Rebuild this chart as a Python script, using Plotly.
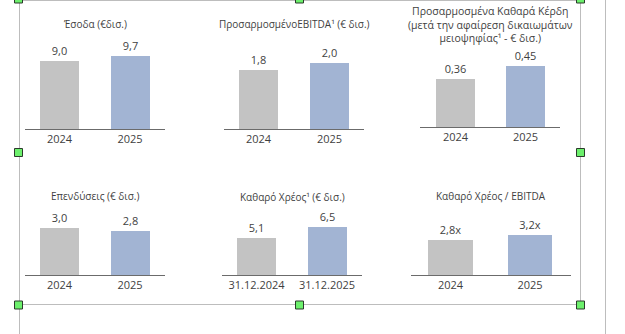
import plotly.graph_objects as go

# ---- data -------------------------------------------------------------
years = ["2024", "2025"]
debt_dates = ["31.12.2024", "31.12.2025"]

revenue = [9.0, 9.7]
adj_ebitda = [1.8, 2.0]
adj_net_profit = [0.36, 0.45]
capex = [3.0, 2.8]
net_debt = [5.1, 6.5]
leverage = [2.8, 3.2]

titles = [
    "Έσοδα (€δισ.)",
    "ΠροσαρμοσμένοEBITDA¹ (€ δισ.)",
    "Προσαρμοσμένα Καθαρά Κέρδη<br>(μετά την αφαίρεση δικαιωμάτων<br>μειοψηφίας¹ - € δισ.)",
    "Επενδύσεις (€ δισ.)",
    "Καθαρό Χρέος¹ (€ δισ.)",
    "Καθαρό Χρέος / EBITDA",
]

# ---- page / styling ---------------------------------------------------
W, H = 625, 334
GREY = "#c3c3c3"
BLUE = "#a2b4d3"
TXT = "#3f3f3f"
FONT = "Open Sans, Noto Sans, sans-serif"

# panel layout in pixels: axis left/right, bar centres, bar width, baseline, px per unit
panels = [
    dict(cats=years, vals=revenue, fmt="%{y:.1f}", xl=25, xr=165, c0=59.5, c1=130, bw=39, yb=129, s=7.55, ty=24, fs=10),
    dict(cats=years, vals=adj_ebitda, fmt="%{y:.1f}", xl=224, xr=364, c0=258.5, c1=329.5, bw=39, yb=129, s=32.9, ty=24, fs=10),
    dict(cats=years, vals=adj_net_profit, fmt="%{y:.2f}", xl=420, xr=560, c0=455.5, c1=525.5, bw=39, yb=127, s=134.5, ty=24, fs=10.5),
    dict(cats=years, vals=capex, fmt="%{y:.1f}", xl=25, xr=165, c0=59.5, c1=130, bw=39, yb=275, s=15.8, ty=196, fs=10),
    dict(cats=debt_dates, vals=net_debt, fmt="%{y:.1f}", xl=222, xr=362, c0=256.5, c1=327, bw=39, yb=275, s=7.35, ty=197, fs=10),
    dict(cats=years, vals=leverage, fmt="%{y:.1f}x", xl=411, xr=571, c0=450.5, c1=530, bw=44.5, yb=275, s=12.6, ty=196, fs=10),
]

fig = go.Figure()
layout = {}
annotations = []
for i, p in enumerate(panels):
    n = "" if i == 0 else str(i + 1)
    unit = p["c1"] - p["c0"]
    top_px = p["yb"] - 85
    fig.add_trace(go.Bar(
        x=p["cats"], y=p["vals"],
        marker=dict(color=[GREY, BLUE], line=dict(width=0)),
        width=p["bw"] / unit,
        texttemplate=p["fmt"], textposition="outside",
        textfont=dict(family=FONT, size=11, color=TXT),
        cliponaxis=False, showlegend=False, hoverinfo="skip",
        xaxis="x" + n, yaxis="y" + n,
    ))
    layout["xaxis" + n] = dict(
        domain=[p["xl"] / W, p["xr"] / W],
        anchor="y" + n, type="category",
        range=[(p["xl"] - p["c0"]) / unit, (p["xr"] - p["c0"]) / unit],
        showline=True, linecolor="#6b6b6b", linewidth=1,
        showgrid=False, zeroline=False, ticks="",
        tickfont=dict(family=FONT, size=11, color=TXT),
    )
    layout["yaxis" + n] = dict(
        domain=[1 - p["yb"] / H, 1 - top_px / H],
        anchor="x" + n, range=[0, 85 / p["s"]],
        visible=False, showgrid=False, zeroline=False,
    )
    annotations.append(dict(
        text=titles[i], x=(p["xl"] + p["xr"]) / 2 / W, y=1 - p["ty"] / H,
        xref="paper", yref="paper", xanchor="center", yanchor="middle",
        showarrow=False, align="center",
        font=dict(family=FONT, size=p["fs"], color=TXT),
    ))

# frame lines and selection handles
shapes = []
LINE = "#bdbdbd"
for x0, y0, x1, y1 in [
    (19.5, 0, 19.5, H), (580.5, 0, 580.5, 304.5), (605.5, 0, 605.5, H),
    (19.5, 0.5, 580.5, 0.5), (19.5, 304.5, 580.5, 304.5),
]:
    shapes.append(dict(type="line", xref="paper", yref="paper",
                       x0=x0 / W, x1=x1 / W, y0=1 - y0 / H, y1=1 - y1 / H,
                       line=dict(color=LINE, width=1)))
for cx, cy in [(18.5, -1), (299.5, -1), (580.5, -1), (18.5, 152.5), (580.5, 152.5),
               (18.5, 305), (299.5, 305), (580.5, 305)]:
    shapes.append(dict(type="rect", xref="paper", yref="paper",
                       x0=(cx - 4) / W, x1=(cx + 4) / W,
                       y0=1 - (cy - 4) / H, y1=1 - (cy + 4) / H,
                       fillcolor="#6cf06c", line=dict(color="#2b3a2b", width=1)))

fig.update_layout(
    width=W, height=H, margin=dict(l=0, r=0, t=0, b=0),
    paper_bgcolor="white", plot_bgcolor="rgba(0,0,0,0)",
    separators=",.", bargap=0,
    annotations=annotations, shapes=shapes, **layout,
)

fig.write_html("out.html")
